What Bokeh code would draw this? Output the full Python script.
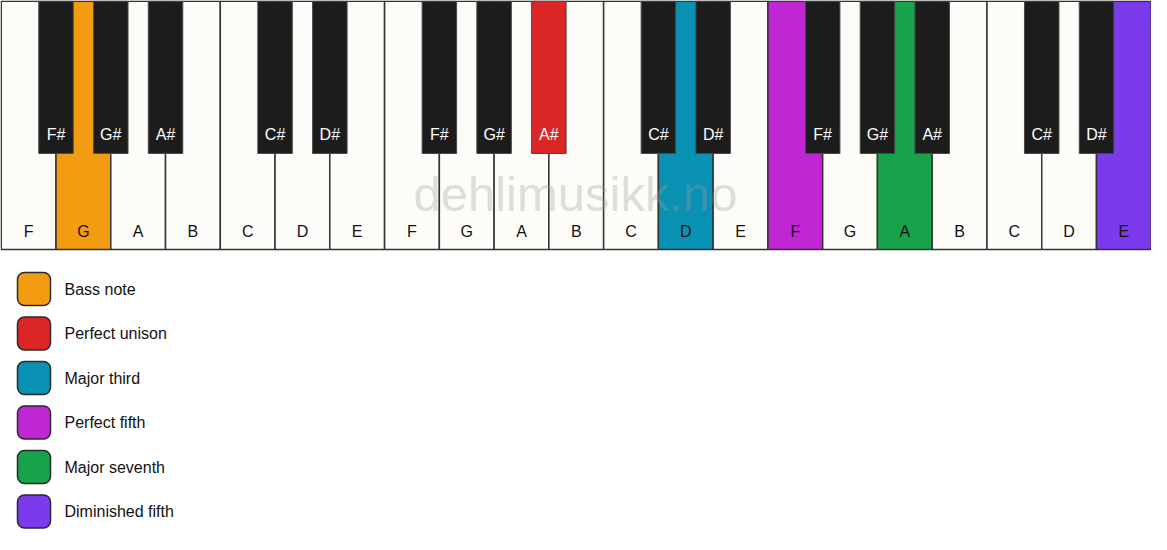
from bokeh.plotting import figure
from bokeh.models import Range1d, ColumnDataSource
from bokeh.core.properties import value
from bokeh.embed import file_html
from bokeh.resources import INLINE

# ---- data ----
white_notes = ["F", "G", "A", "B", "C", "D", "E"]
black_notes = ["F#", "G#", "A#", None, "C#", "D#", None]   # black key after each white note
n_octaves = 3
highlight_notes = ["G", "A#", "D", "F", "A", "E"]
highlight_octaves = [0, 1, 1, 2, 2, 2]
legend_labels = ["Bass note", "Perfect unison", "Major third", "Perfect fifth",
                 "Major seventh", "Diminished fifth"]
legend_colors = ["#F39C12", "#DC2626", "#0891B2", "#C026D3", "#16A34A", "#7C3AED"]
watermark = "dehlimusikk.no"

# ---- layout ----
W, H = 1151, 534
KB_H = 249
BK_H = 153
n_white = len(white_notes) * n_octaves
kw = (W - 1) / n_white
bkw = kw * 0.63
FONT = value("Liberation Sans")

hl = {(n, o): c for n, o, c in zip(highlight_notes, highlight_octaves, legend_colors)}

wl, wr, wc, wlab, wx = [], [], [], [], []
bl, br, bc, blab, bx = [], [], [], [], []
for o in range(n_octaves):
    for j, n in enumerate(white_notes):
        i = o * len(white_notes) + j
        wl.append(i * kw + 0.75)
        wr.append((i + 1) * kw + 0.75)
        wc.append(hl.get((n, o), "#FDFCF8"))
        wlab.append(n)
        wx.append((i + 0.5) * kw + 0.75)
        b = black_notes[j]
        if b is not None and i + 1 < n_white:
            cx = (i + 1) * kw + 0.75
            bl.append(cx - bkw / 2)
            br.append(cx + bkw / 2)
            bc.append(hl.get((b, o), "#1C1C1C"))
            blab.append(b)
            bx.append(cx)

p = figure(width=W, height=H, output_backend="svg", toolbar_location=None,
           x_range=Range1d(0, W), y_range=Range1d(H, 0), min_border=0)
p.axis.visible = False
p.grid.visible = False
p.outline_line_color = None
p.background_fill_color = "white"
p.border_fill_color = "white"

ws = ColumnDataSource(dict(left=wl, right=wr, color=wc, label=wlab, x=wx,
                           top=[0.75] * len(wl), bottom=[KB_H] * len(wl),
                           y=[231] * len(wl)))
p.quad(left="left", right="right", top="top", bottom="bottom", source=ws,
       fill_color="color", line_color="#333333", line_width=1.5)
p.text(x="x", y="y", text="label", source=ws, text_align="center",
       text_baseline="middle", text_font=FONT, text_font_size="16px",
       text_color="#111111")

p.text(x=[(W - 1) / 2], y=[193], text=[watermark], text_align="center",
       text_baseline="middle", text_font=FONT, text_font_size="49px",
       text_color="#9a9a9a", text_alpha=0.32)

bs = ColumnDataSource(dict(left=bl, right=br, color=bc, label=blab, x=bx,
                           top=[0.75] * len(bl), bottom=[BK_H] * len(bl),
                           y=[133.5] * len(bl)))
p.quad(left="left", right="right", top="top", bottom="bottom", source=bs,
       fill_color="color", line_color="#4a4a4a", line_width=1)
p.text(x="x", y="y", text="label", source=bs, text_align="center",
       text_baseline="middle", text_font=FONT, text_font_size="16px",
       text_color="white")

# legend
pitch = 44.5
ly = [288.5 + k * pitch for k in range(len(legend_labels))]
ls = ColumnDataSource(dict(left=[17] * len(ly), right=[50] * len(ly),
                           top=[y - 16.5 for y in ly], bottom=[y + 16.5 for y in ly],
                           color=legend_colors, label=legend_labels,
                           tx=[64] * len(ly), ty=ly))
p.quad(left="left", right="right", top="top", bottom="bottom", source=ls,
       fill_color="color", line_color="#2a2a2a", line_width=1.5, border_radius=7)
p.text(x="tx", y="ty", text="label", source=ls, text_align="left",
       text_baseline="middle", text_font=FONT, text_font_size="16px",
       text_color="#111111")

open("out.html", "w").write(file_html(p, INLINE))
